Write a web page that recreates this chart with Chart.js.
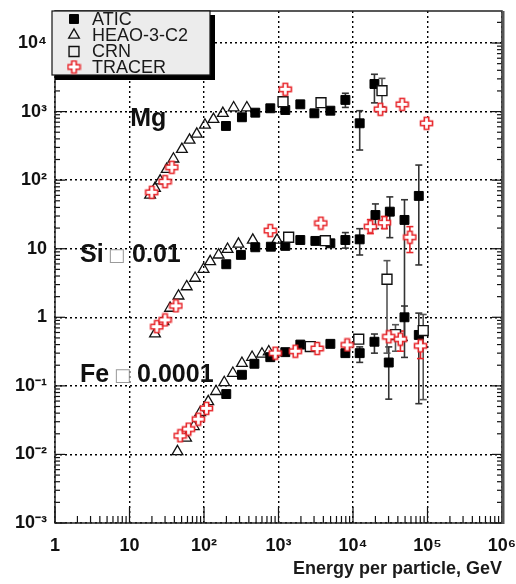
<!DOCTYPE html>
<html><head><meta charset="utf-8">
<script src="https://cdn.jsdelivr.net/npm/chart.js@4.4.1/dist/chart.umd.min.js"></script>
<style>html,body{margin:0;padding:0;background:#fff;}canvas{display:block;}</style>
</head><body>
<canvas id="c" width="516" height="584"></canvas>
<script>
// ---------- axis ticks ----------
const xTickValues = [1, 10, 100, 1e3, 1e4, 1e5, 1e6];
const xTickLabels = ['1', '10', '10²', '10³', '10⁴', '10⁵', '10⁶'];
const yTickValues = [1e-3, 1e-2, 1e-1, 1, 10, 100, 1e3, 1e4];
const yTickLabels = ['10⁻³', '10⁻²', '10⁻¹', '1', '10', '10²', '10³', '10⁴'];
const xAxisTitle = 'Energy per particle, GeV';
const seriesNames = ['ATIC', 'HEAO-3-C2', 'CRN', 'TRACER'];

// ---------- ATIC ----------
const aticMgE  = [197, 323, 488, 776, 1234, 1963, 3030, 4970, 7900, 12300, 19400];
const aticMgF  = [617, 826, 964, 1117, 1055, 1276, 944, 1030, 1480, 675, 2525];
const aticMgLo = [null, null, null, null, null, null, null, null, 1150, 275, 1340];
const aticMgHi = [null, null, null, null, null, null, null, null, 1850, 1030, 3500];
const aticSiE  = [199, 313, 488, 790, 1234, 1963, 3125, 4970, 7900, 12300, 20000, 31200, 49100, 76400];
const aticSiF  = [5.94, 8.13, 10.5, 10.7, 11.0, 13.4, 13.0, 12.0, 13.4, 13.7, 31, 34.7, 26.3, 58.9];
const aticSiLo = [null, null, null, null, null, null, null, null, 10.2, 8.1, 19.6, 14.5, 0.26, 5.8];
const aticSiHi = [null, null, null, null, null, null, null, null, 17.2, 19.6, 45, 57, 51.8, 166];
const aticFeE  = [199, 323, 475, 776, 1234, 1963, 3030, 4970, 7900, 12300, 19400, 30200, 49100, 76400];
const aticFeF  = [0.076, 0.145, 0.21, 0.262, 0.31, 0.40, 0.37, 0.41, 0.30, 0.30, 0.44, 0.219, 1.0, 0.553];
const aticFeLo = [null, null, null, null, null, null, null, null, null, 0.22, 0.30, 0.064, 0.46, 0.055];
const aticFeHi = [null, null, null, null, null, null, null, null, null, 0.37, 0.57, 0.37, 1.46, 1.15];

// ---------- HEAO-3-C2 ----------
const heaoMgE = [18.9, 22, 25.8, 31.6, 38.9, 50.5, 64, 80, 103, 134, 179, 250, 376];
const heaoMgF = [60.8, 76, 98, 144, 204, 282, 385, 471, 638, 771, 944, 1140, 1140];
const heaoSiE = [22, 28.6, 35, 45.5, 58.6, 76, 98.6, 121, 157, 207, 290, 452, 955];
const heaoSiF = [0.573, 0.867, 1.36, 2.05, 2.8, 3.72, 5.02, 6.49, 8.13, 9.84, 11.7, 13.4, 13.4];
const heaoFeE = [44, 57.5, 73, 89, 114, 145, 187, 244, 323, 442, 600, 740];
const heaoFeF = [0.011, 0.0173, 0.0256, 0.041, 0.059, 0.083, 0.112, 0.153, 0.214, 0.262, 0.292, 0.315];

// ---------- CRN ----------
const crnMgE  = [1150, 3720, 24500];
const crnMgF  = [1395, 1350, 2018];
const crnMgLo = [null, null, 1175];
const crnMgHi = [null, null, 3050];
const crnSiE  = [1368, 4256, 28600];
const crnSiF  = [14.7, 13.1, 3.59];
const crnSiLo = [null, null, 0.3];
const crnSiHi = [null, null, 6.7];
const crnFeE  = [2673, 11940, 37200, 87600];
const crnFeF  = [0.374, 0.48, 0.56, 0.64];
const crnFeLo = [null, null, 0.32, 0.063];
const crnFeHi = [null, null, 0.78, 1.1];

// ---------- TRACER ----------
const tracerMgE  = [19.9, 30, 37, 1234, 23300, 45700, 97000];
const tracerMgF  = [66.5, 95, 154, 2113, 1080, 1276, 675];
const tracerSiE  = [23.3, 30, 42, 776, 3700, 17100, 26400, 58000];
const tracerSiF  = [0.73, 0.916, 1.47, 18.4, 23.6, 21, 24, 14.7];
const tracerSiLo = [null, null, null, null, null, 16.6, 19.7, 8.8];
const tracerSiHi = [null, null, null, null, null, 26.6, 29.4, 21];
const tracerFeE  = [47.8, 62, 84, 108, 906, 1683, 3300, 8340, 30200, 43300, 80600];
const tracerFeF  = [0.0187, 0.0234, 0.0327, 0.047, 0.30, 0.32, 0.35, 0.396, 0.52, 0.48, 0.383];
const tracerFeLo = [null, null, null, null, null, null, null, null, null, 0.32, 0.25];
const tracerFeHi = [null, null, null, null, null, null, null, null, null, 0.63, 0.52];

// ---------- element labels (text) ----------
const elementMg = 'Mg';
const elementSi = 'Si';
const elementFe = 'Fe';
const scaleSi = '0.01';
const scaleFe = '0.0001';
const missingGlyph = '□';

// ---------- helpers ----------
function pts(E, F) { return E.map((e, i) => ({x: e, y: F[i]})); }
function errs(E, lo, hi) {
  const out = [];
  E.forEach((e, i) => { if (lo && lo[i] != null) out.push({x: e, lo: lo[i], hi: hi[i]}); });
  return out;
}

function plusImage() {
  const c = document.createElement('canvas');
  c.width = 15; c.height = 15;
  const g = c.getContext('2d');
  const m = 7.5, a = 2.2, L = 6;
  g.beginPath();
  g.moveTo(m - a, m - L); g.lineTo(m + a, m - L); g.lineTo(m + a, m - a);
  g.lineTo(m + L, m - a); g.lineTo(m + L, m + a); g.lineTo(m + a, m + a);
  g.lineTo(m + a, m + L); g.lineTo(m - a, m + L); g.lineTo(m - a, m + a);
  g.lineTo(m - L, m + a); g.lineTo(m - L, m - a); g.lineTo(m - a, m - a);
  g.closePath();
  g.fillStyle = '#fff'; g.fill();
  g.strokeStyle = '#e8262b'; g.lineWidth = 1.6; g.stroke();
  return c;
}
const plusImg = plusImage();

const datasets = [
  {label: seriesNames[0], data: [...pts(aticMgE, aticMgF), ...pts(aticSiE, aticSiF), ...pts(aticFeE, aticFeF)],
   pointStyle: 'rect', pointRadius: 6.3, backgroundColor: '#000', borderColor: '#000', borderWidth: 1, order: 2,
   errorBars: [...errs(aticMgE, aticMgLo, aticMgHi), ...errs(aticSiE, aticSiLo, aticSiHi), ...errs(aticFeE, aticFeLo, aticFeHi)],
   errColor: '#333'},
  {label: seriesNames[1], data: [...pts(heaoMgE, heaoMgF), ...pts(heaoSiE, heaoSiF), ...pts(heaoFeE, heaoFeF)],
   pointStyle: 'triangle', pointRadius: 6.2, backgroundColor: 'rgba(255,255,255,0)', borderColor: '#111', borderWidth: 1.3, order: 3,
   errorBars: [], errColor: '#333'},
  {label: seriesNames[2], data: [...pts(crnMgE, crnMgF), ...pts(crnSiE, crnSiF), ...pts(crnFeE, crnFeF)],
   pointStyle: 'rect', pointRadius: 7, backgroundColor: '#fff', borderColor: '#111', borderWidth: 1.4, order: 1,
   errorBars: [...errs(crnMgE, crnMgLo, crnMgHi), ...errs(crnSiE, crnSiLo, crnSiHi), ...errs(crnFeE, crnFeLo, crnFeHi)],
   errColor: '#555'},
  {label: seriesNames[3], data: [...pts(tracerMgE, tracerMgF), ...pts(tracerSiE, tracerSiF), ...pts(tracerFeE, tracerFeF)],
   pointStyle: plusImg, pointRadius: 7, backgroundColor: '#fff', borderColor: '#e8262b', borderWidth: 1.5, order: 0,
   errorBars: [...errs(tracerSiE, tracerSiLo, tracerSiHi), ...errs(tracerFeE, tracerFeLo, tracerFeHi)],
   errColor: '#e8262b'}
];

const FONT = '"Liberation Sans", Arial, Helvetica, sans-serif';

function line(ctx, x1, y1, x2, y2) { ctx.beginPath(); ctx.moveTo(x1, y1); ctx.lineTo(x2, y2); ctx.stroke(); }

const decor = {
  id: 'decor',
  beforeDatasetsDraw(chart) {
    const {ctx, chartArea: {left, right, top, bottom}, scales: {x, y}} = chart;
    ctx.save();
    ctx.strokeStyle = '#111';
    ctx.lineWidth = 1.2;
    for (let d = 0; d <= 6; d++) {
      for (let k = 1; k <= 9; k++) {
        const v = k * Math.pow(10, d);
        if (v > 1e6) break;
        const px = x.getPixelForValue(v);
        line(ctx, px, bottom, px, bottom - (k === 1 ? 16 : 7));
      }
    }
    for (let d = -3; d <= 4; d++) {
      for (let k = 1; k <= 9; k++) {
        const v = k * Math.pow(10, d);
        if (v > y.max) break;
        const py = y.getPixelForValue(v);
        const len = k === 1 ? 10 : 5;
        line(ctx, left, py, left + len, py);
        line(ctx, right, py, right - len, py);
      }
    }
    ctx.lineWidth = 1.5;
    ctx.strokeStyle = '#222';
    ctx.strokeRect(left, top, right - left, bottom - top);
    ctx.lineWidth = 3;
    ctx.strokeStyle = '#555';
    line(ctx, right + 1, top, right + 1, bottom + 1);

    chart.data.datasets.forEach(ds => {
      ctx.strokeStyle = ds.errColor;
      ctx.lineWidth = 1.6;
      ds.errorBars.forEach(eb => {
        const px = x.getPixelForValue(eb.x);
        const p1 = y.getPixelForValue(eb.lo);
        const p2 = y.getPixelForValue(eb.hi);
        line(ctx, px, p1, px, p2);
        line(ctx, px - 3.5, p1, px + 3.5, p1);
        line(ctx, px - 3.5, p2, px + 3.5, p2);
      });
    });
    ctx.restore();
  },
  afterDatasetsDraw(chart) {
    const {ctx, scales: {x, y}} = chart;
    ctx.save();
    ctx.textBaseline = 'alphabetic';
    ctx.textAlign = 'left';
    ctx.fillStyle = '#111';
    ctx.font = 'bold 25px ' + FONT;
    const lx = x.getPixelForValue(2.17);
    ctx.fillText(elementMg, x.getPixelForValue(10.2), y.getPixelForValue(617));
    const siY = y.getPixelForValue(6.4);
    ctx.fillText(elementSi, lx, siY);
    ctx.fillText(scaleSi, lx + 52, siY);
    const feY = y.getPixelForValue(0.1138);
    ctx.fillText(elementFe, lx, feY);
    ctx.fillText(scaleFe, lx + 57, feY);
    ctx.font = '18px "DejaVu Sans", sans-serif';
    ctx.fillStyle = '#9a9a9a';
    ctx.textAlign = 'center';
    ctx.fillText(missingGlyph, lx + 36.5, siY - 1);
    ctx.fillText(missingGlyph, lx + 42.5, feY - 1);

    const bx = 52, by = 11, bw = 158, bh = 64;
    ctx.fillStyle = '#000';
    ctx.fillRect(bx + 3, by + bh, bw + 2, 5);
    ctx.fillRect(bx + bw, by + 4, 5, bh + 1);
    ctx.fillStyle = '#ececec';
    ctx.fillRect(bx, by, bw, bh);
    ctx.strokeStyle = '#111';
    ctx.lineWidth = 1.2;
    ctx.strokeRect(bx, by, bw, bh);
    const rows = [19, 35, 51.5, 67];
    const draw = (Chart.helpers && Chart.helpers.drawPoint) ? Chart.helpers.drawPoint : null;
    chart.data.datasets.forEach((ds, i) => {
      const cy = rows[i];
      ctx.save();
      ctx.fillStyle = ds.backgroundColor === 'rgba(255,255,255,0)' ? 'rgba(0,0,0,0)' : ds.backgroundColor;
      if (ds.label === 'CRN') ctx.fillStyle = '#ececec';
      ctx.strokeStyle = ds.borderColor;
      ctx.lineWidth = ds.borderWidth;
      if (draw) draw(ctx, {pointStyle: ds.pointStyle, radius: ds.pointRadius, rotation: 0, borderWidth: ds.borderWidth}, 74, cy);
      ctx.restore();
      ctx.fillStyle = '#1a1a1a';
      ctx.font = '18px ' + FONT;
      ctx.textAlign = 'left';
      ctx.textBaseline = 'middle';
      ctx.fillText(ds.label, 92, cy + 1);
    });
    ctx.restore();
  }
};

new Chart(document.getElementById('c'), {
  type: 'scatter',
  data: {datasets},
  options: {
    responsive: false,
    animation: false,
    devicePixelRatio: 1,
    events: [],
    layout: {padding: {left: 0, right: 14, top: 11, bottom: 0}},
    plugins: {legend: {display: false}, tooltip: {enabled: false}},
    scales: {
      x: {
        type: 'logarithmic', min: 1, max: 1e6,
        afterBuildTicks: s => { s.ticks = xTickValues.map(v => ({value: v})); },
        afterFit: s => { s.height = 61; s.paddingLeft = 0; s.paddingRight = 0; },
        ticks: {autoSkip: false, maxRotation: 0, padding: 12, color: '#111',
                font: {family: FONT, size: 18, weight: 'bold'},
                callback: (v) => { const i = xTickValues.indexOf(v); return i >= 0 ? xTickLabels[i] : ''; }},
        grid: {color: '#000', lineWidth: 1.4, drawTicks: false},
        border: {display: false, dash: [2, 3]},
        title: {display: true, text: xAxisTitle, align: 'end', color: '#1a1a1a',
                font: {family: FONT, size: 18, weight: 'bold'}, padding: {top: 0, bottom: 4}}
      },
      y: {
        type: 'logarithmic', min: 1e-3, max: 29300,
        afterBuildTicks: s => { s.ticks = yTickValues.map(v => ({value: v})); },
        afterFit: s => { s.width = 55; s.paddingTop = 0; s.paddingBottom = 0; },
        ticks: {autoSkip: false, padding: 8, color: '#111',
                font: {family: FONT, size: 18, weight: 'bold'},
                callback: (v) => { const i = yTickValues.findIndex(t => Math.abs(t - v) / t < 1e-6); return i >= 0 ? yTickLabels[i] : ''; }},
        grid: {color: '#000', lineWidth: 1.4, drawTicks: false},
        border: {display: false, dash: [2, 3]}
      }
    }
  },
  plugins: [decor]
});
</script>
</body></html>
